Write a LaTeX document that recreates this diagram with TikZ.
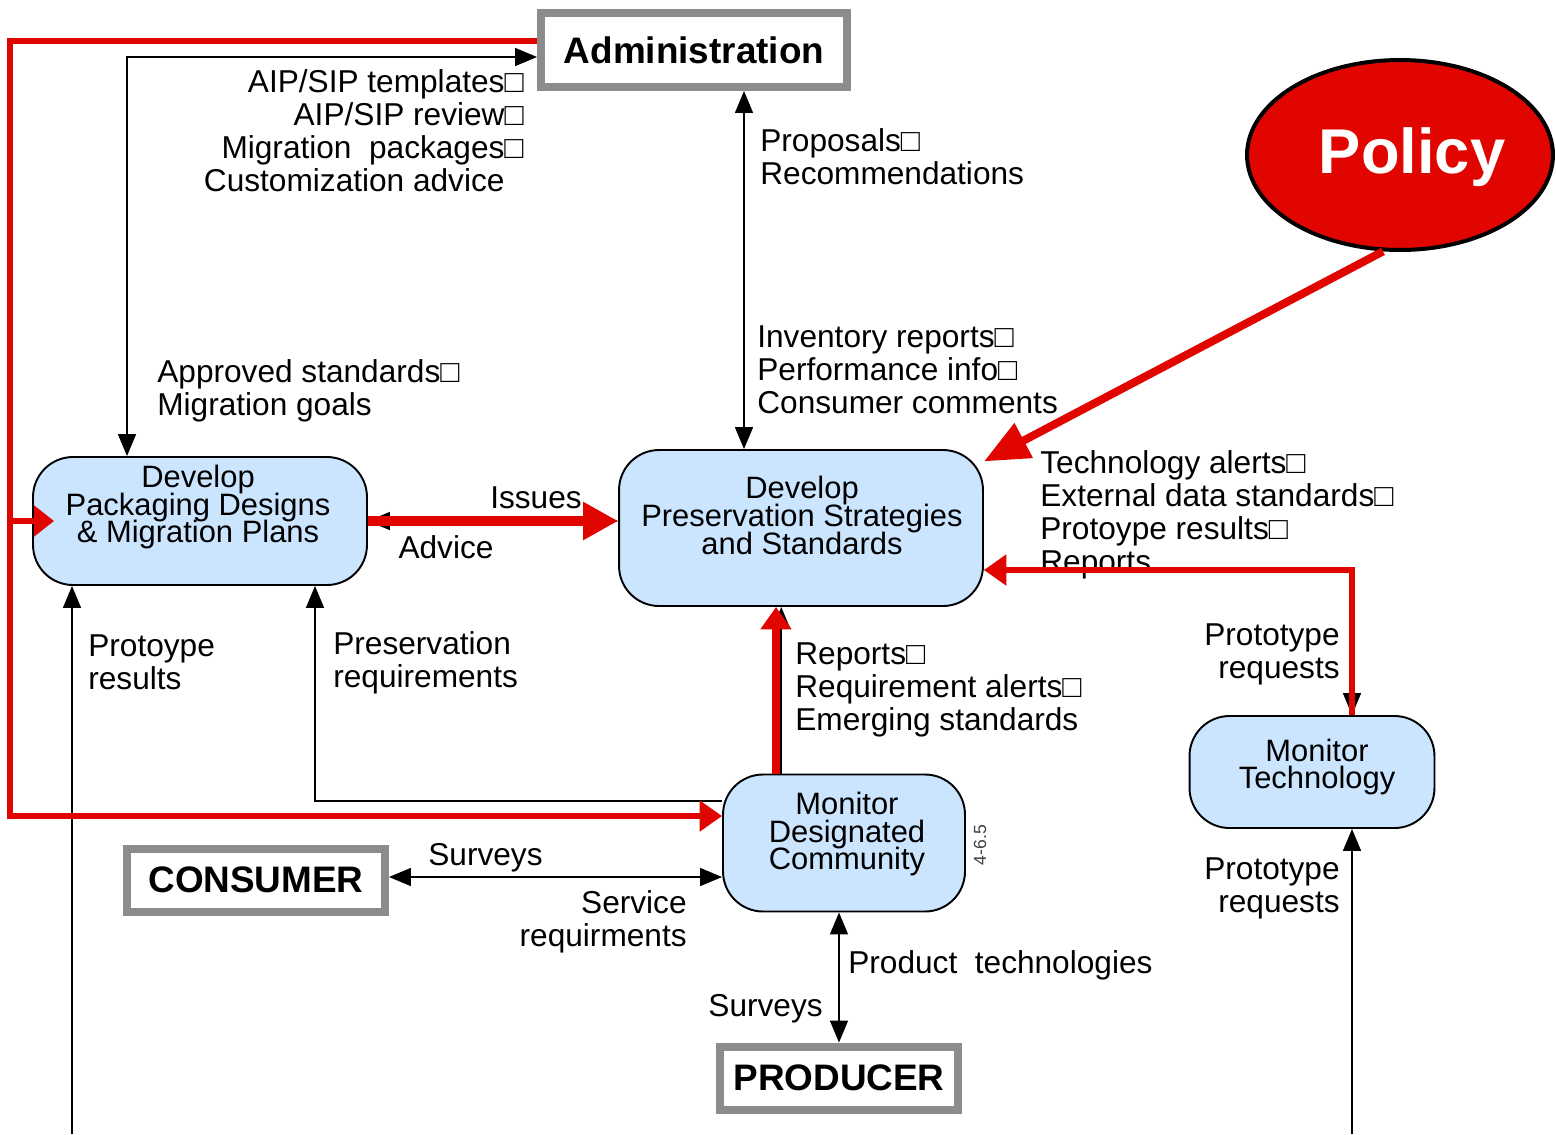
\documentclass[tikz,border=0pt]{standalone}
\usepackage{fontspec}
\setmainfont{Liberation Sans}
\usepackage{tikz}
\usetikzlibrary{shapes,arrows,positioning,calc,arrows.meta}
\definecolor{polred}{RGB}{225,5,0}
\definecolor{procblue}{RGB}{204,229,255}
\definecolor{termgray}{RGB}{140,140,140}
\newcommand{\tightlines}{\setlength{\lineskiplimit}{-20pt}}

\begin{document}
\begin{tikzpicture}[
    x=0.02cm, y=-0.02cm,
    procbox/.style={rectangle, rounded corners=0.8cm, draw=black, line width=1.1pt, fill=procblue},
    proctext/.style={align=center, inner sep=0, font=\fontsize{17.6}{15.9}\selectfont\tightlines},
    termbox/.style={rectangle, draw=termgray, line width=0.16cm, fill=white, font=\fontsize{21}{24}\selectfont\bfseries},
    lbl/.style={inner sep=0, font=\fontsize{18}{18.8}\selectfont},
    flow/.style={line width=0.9pt, >={Triangle[length=0.44cm,width=0.36cm]}},
    redline/.style={draw=polred, line width=0.12cm, >={Triangle[length=0.45cm,width=0.6cm]}},
    redbig/.style={draw=polred, line width=0.2cm, >={Triangle[length=0.7cm,width=0.72cm]}}
]
    \useasboundingbox (0,0) rectangle (1556,1134);

    % Boxes
    \node[termbox, minimum width=6.12cm, minimum height=1.48cm] (admin) at (694,50) {Administration};
    \node[ellipse, draw=black, line width=0.08cm, fill=polred,
          minimum width=6.12cm, minimum height=3.8cm] (policy) at (1400,155) {};
    \node[text=white, font=\fontsize{36}{40}\selectfont\bfseries] (policytxt) at (1412,157) {Policy};
    \node[procbox, minimum width=6.68cm, minimum height=2.56cm] (pack) at (200,521) {};
    \node[proctext] (packtxt) at (198,507) {Develop\\Packaging Designs\\\& Migration Plans};
    \node[procbox, minimum width=7.28cm, minimum height=3.12cm] (pres) at (801,528) {};
    \node[proctext] (prestxt) at (802,515) {Develop\\Preservation Strategies\\and Standards};
    \node[procbox, minimum width=4.84cm, minimum height=2.74cm] (mdc) at (844,843) {};
    \node[proctext] (mdctxt) at (847,834) {Monitor\\Designated\\Community};
    \node[procbox, minimum width=4.9cm, minimum height=2.24cm] (mt) at (1312,772) {};
    \node[proctext] (mttxt) at (1317,767) {Monitor\\Technology};
    \node[termbox, minimum width=5.16cm, minimum height=1.26cm] (consumer) at (256,880) {CONSUMER};
    \node[termbox, minimum width=4.76cm, minimum height=1.26cm] (producer) at (839,1078) {PRODUCER};
    \node[lbl, font=\fontsize{10}{11}\selectfont, text=black!75, rotate=90] (code) at (980,845) {4-6.5};

    % Labels
    \node[lbl, align=right, anchor=east] (admlbl) at (524,131) {AIP/SIP templates□\\AIP/SIP review□\\Migration~~packages□\\Customization advice\phantom{□}};
    \node[lbl, align=left, anchor=west] (proplbl) at (760,157) {Proposals□\\Recommendations};
    \node[lbl, align=left, anchor=west] (invlbl) at (757,370) {Inventory reports□\\Performance info□\\Consumer comments};
    \node[lbl, align=left, anchor=west] (apprlbl) at (157,391) {Approved standards□\\Migration goals};
    \node[lbl] (issues) at (536,498) {Issues};
    \node[lbl] (advice) at (446,547) {Advice};
    \node[lbl, align=left, anchor=west] (techlbl) at (1040,515) {Technology alerts□\\External data standards□\\Protoype results□\\Reports};
    \node[lbl, align=right, anchor=east] (reqlbl) at (1340,654) {Prototype\\requests};
    \node[lbl, align=left, anchor=west] (reslbl) at (88,662) {Protoype\\results};
    \node[lbl, align=left, anchor=west] (preqlbl) at (333,663) {Preservation\\requirements};
    \node[lbl, align=left, anchor=west] (replbl) at (795,690) {Reports□\\Requirement alerts□\\Emerging standards};
    \node[lbl, anchor=west] (survlbl) at (428,858) {Surveys};
    \node[lbl, align=right, anchor=east] (servlbl) at (687,922) {Service\\requirments};
    \node[lbl, anchor=west] (prodlbl) at (848,965) {Product~~technologies};
    \node[lbl, anchor=east] (survlbl2) at (823,1009) {Surveys};
    \node[lbl, align=right, anchor=east] (reqlbl2) at (1340,888) {Prototype\\requests};

    % Corner points
    \coordinate (tl) at (127,57);
    \coordinate (av) at (744,300);
    \coordinate (rt) at (1352,570);
    \coordinate (mv) at (776,700);
    \coordinate (pl) at (315,801);
    \coordinate (bl) at (72,1134);
    \coordinate (br) at (1352,1134);
    \coordinate (cy) at (560,877);
    \coordinate (redtop) at (10,41);
    \coordinate (redbot) at (10,816);

    % Black flows
    \draw[flow, <->] (tl |- pack.north) -- (tl) -- (tl -| admin.west);
    \draw[flow, <->] (av |- admin.south) -- (av |- pres.north);
    \draw[flow, <->] (pack.east) -- (pack.east -| pres.west);
    \draw[flow, <->] (rt |- mt.north) -- (rt) -- (rt -| pres.east);
    \draw[flow, ->] ([xshift=3]mv |- mdc.north) -- ([xshift=3]mv |- pres.south);
    \draw[flow, ->] (pl -| mdc.west) -- (pl) -- (pl |- pack.south);
    \draw[flow, ->] (bl) -- (bl |- pack.south);
    \draw[flow, ->] (br) -- (br |- mt.south);
    \draw[flow, <->] (cy -| consumer.east) -- (cy -| mdc.west);
    \draw[flow, <->] (producer.north |- mdc.south) -- (producer.north);

    % Red flows
    \draw[redline, ->] (redtop -| admin.west) -- (redtop) -- (redbot) -- (redbot -| mdc.west);
    \draw[redline, >={Triangle[length=0.4cm,width=0.6cm]}, ->] (redtop |- pack.west) -- ([xshift=0.44cm]pack.west);
    \draw[redbig, ->] (pack.east) -- (pack.east -| pres.west);
    \draw[redline, ->] (rt |- mt.north) -- (rt) -- (rt -| pres.east);
    \draw[redline, line width=0.16cm, ->] (mv |- mdc.north) -- (mv |- pres.south);
    \draw[redline, line width=0.16cm, >={Triangle[length=0.9cm,width=0.75cm]}, ->] (policy.260) -- (pres.20);
\end{tikzpicture}
\end{document}
